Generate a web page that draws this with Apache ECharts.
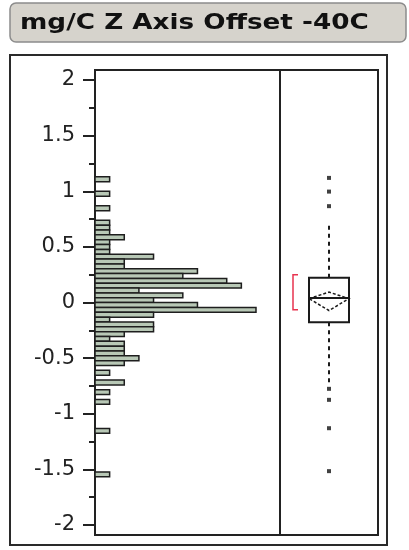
<!DOCTYPE html>
<html>
<head>
<meta charset="utf-8">
<script src="https://cdn.jsdelivr.net/npm/echarts@6.0.0/dist/echarts.min.js"></script>
<style>
html, body { margin: 0; padding: 0; background: #fff; }
#chart { width: 409px; height: 550px; }
</style>
</head>
<body>
<div id="chart"></div>
<script>
// histogram bins, read top to bottom
var binTop = 1.13;
var binWidth = 0.0435;
var binCounts = [1,0,0,1,0,0,1,0,0,1, 1,1,2,1,1,1,4,2,2,7, 6,9,10,3,6,4,7,11,4,1,
                 4,4,2,1,2,2,2,3,2,0, 1,0,2,0,1,0,1,0,0,0, 0,0,1,0,0,0,0,0,0,0, 0,1];

// axis ticks
var tickValues = [-2, -1.5, -1, -0.5, 0, 0.5, 1, 1.5, 2];
var minorTickValues = [-1.75, -1.25, -0.75, -0.25, 0.25, 0.75, 1.25, 1.75];

// outlier box plot: whisker low, q1, median, q3, whisker high
var boxValues = [-0.716, -0.177, 0.04, 0.222, 0.707];
// mean diamond: lower, mean, upper
var meanDiamond = [-0.072, 0.035, 0.093];
// shortest half bracket
var shortestHalf = [-0.066, 0.249];
var outliers = [1.12, 0.997, 0.866, -0.776, -0.875, -1.13, -1.516];

var histData = [];
binCounts.forEach(function (c, i) {
    if (c > 0) histData.push([c, binTop - i * binWidth, binTop - (i + 1) * binWidth]);
});

function renderBar(params, api) {
    var p0 = api.coord([0, api.value(1)]);
    var p1 = api.coord([api.value(0), api.value(2)]);
    return {
        type: 'rect',
        shape: { x: p0[0], y: p0[1], width: p1[0] - p0[0], height: p1[1] - p0[1] },
        style: { fill: '#b8c8b6', stroke: '#1e1e1e', lineWidth: 1.5 }
    };
}

function renderBox(params, api) {
    var cx = api.coord([0.5, 0])[0];
    var y = function (v) { return api.coord([0.5, v])[1]; };
    var line = { stroke: '#1a1a1a', lineWidth: 2 };
    return {
        type: 'group',
        children: [
            { type: 'line', shape: { x1: cx, y1: y(boxValues[3]), x2: cx, y2: y(boxValues[4]) },
              style: { stroke: '#1a1a1a', lineWidth: 2, lineDash: [4, 4] } },
            { type: 'line', shape: { x1: cx, y1: y(boxValues[1]), x2: cx, y2: y(boxValues[0]) },
              style: { stroke: '#1a1a1a', lineWidth: 2, lineDash: [4, 4] } },
            { type: 'rect', shape: { x: cx - 20, y: y(boxValues[3]), width: 40, height: y(boxValues[1]) - y(boxValues[3]) },
              style: { fill: '#fff', stroke: '#1a1a1a', lineWidth: 2 } },
            { type: 'line', shape: { x1: cx - 20, y1: y(boxValues[2]), x2: cx + 20, y2: y(boxValues[2]) }, style: line },
            { type: 'polygon', shape: { points: [[cx - 20, y(meanDiamond[1])], [cx, y(meanDiamond[2])],
                                                  [cx + 20, y(meanDiamond[1])], [cx, y(meanDiamond[0])]] },
              style: { fill: 'none', stroke: '#1a1a1a', lineWidth: 1.5, lineDash: [3, 2] } },
            { type: 'polyline', shape: { points: [[cx - 31, y(shortestHalf[1])], [cx - 36, y(shortestHalf[1])],
                                                   [cx - 36, y(shortestHalf[0])], [cx - 31, y(shortestHalf[0])]] },
              style: { fill: 'none', stroke: '#e8334f', lineWidth: 1.5 } }
        ]
    };
}

var yRange = { min: -2.09, max: 2.09 };

var option = {
    animation: false,
    graphic: [
        { type: 'rect', shape: { x: 10, y: 3, width: 396, height: 39, r: 6 },
          style: { fill: '#d6d3cc', stroke: '#8c8c8c', lineWidth: 1.5 } },
        { type: 'text', x: 20, y: 24, scaleX: 1.25,
          style: { text: 'mg/C Z Axis Offset -40C', font: 'bold 21px "DejaVu Sans"', fill: '#111',
                   textVerticalAlign: 'middle' } },
        { type: 'rect', shape: { x: 10, y: 55, width: 377, height: 490 },
          style: { fill: 'none', stroke: '#2a2a2a', lineWidth: 2 } }
    ],
    grid: [
        { left: 95, top: 70, width: 185, height: 465, show: true, borderColor: '#222', borderWidth: 2 },
        { left: 280, top: 70, width: 98, height: 465, show: true, borderColor: '#222', borderWidth: 2 }
    ],
    xAxis: [
        { gridIndex: 0, type: 'value', min: 0, max: 12.64, show: false },
        { gridIndex: 1, type: 'value', min: 0, max: 1, show: false }
    ],
    yAxis: [
        { gridIndex: 0, type: 'value', min: yRange.min, max: yRange.max, position: 'left',
          axisLine: { show: false }, splitLine: { show: false },
          axisTick: { show: true, length: 12, customValues: tickValues, lineStyle: { color: '#222', width: 2 } },
          axisLabel: { customValues: tickValues, margin: 20, color: '#222', fontSize: 21, fontFamily: 'DejaVu Sans' } },
        { gridIndex: 0, type: 'value', min: yRange.min, max: yRange.max, position: 'left', offset: 0,
          axisLine: { show: false }, splitLine: { show: false },
          axisTick: { show: true, length: 6, customValues: minorTickValues, lineStyle: { color: '#222', width: 2 } },
          axisLabel: { show: false } },
        { gridIndex: 1, type: 'value', min: yRange.min, max: yRange.max, show: false }
    ],
    series: [
        { type: 'custom', xAxisIndex: 0, yAxisIndex: 0, renderItem: renderBar,
          encode: { x: 0, y: [1, 2] }, data: histData },
        { type: 'custom', xAxisIndex: 1, yAxisIndex: 2, renderItem: renderBox,
          encode: { x: 0, y: 1 }, data: [[0.5, boxValues[2]]] },
        { type: 'scatter', xAxisIndex: 1, yAxisIndex: 2, symbol: 'rect', symbolSize: 4,
          itemStyle: { color: '#111' },
          data: outliers.map(function (v) { return [0.5, v]; }) }
    ]
};

var myChart = echarts.init(document.getElementById('chart'));
myChart.setOption(option);
</script>
</body>
</html>
